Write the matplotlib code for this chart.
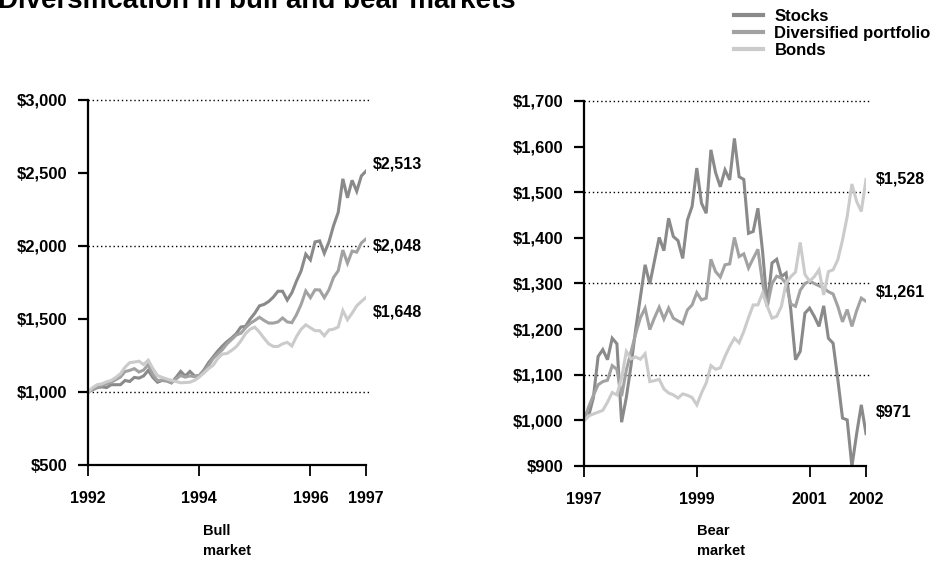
import numpy as np
import matplotlib
matplotlib.use("Agg")
import matplotlib.pyplot as plt
from matplotlib.ticker import FuncFormatter

plt.rcParams["font.family"] = ["Liberation Sans", "DejaVu Sans"]
plt.rcParams["font.weight"] = "bold"

# ==== DATA (monthly values of $1,000 invested) ====
BULL_START, BEAR_START = 1992, 1997

bull_stocks = [1000, 1015, 1030, 1035, 1030, 1050, 1050, 1050, 1079, 1072, 1100, 1095,
               1110, 1148, 1100, 1067, 1079, 1075, 1063, 1100, 1141, 1109, 1141, 1109,
               1113, 1150, 1200, 1240, 1280, 1315, 1345, 1370, 1400, 1445, 1450, 1500,
               1540, 1590, 1600, 1620, 1650, 1690, 1690, 1630, 1680, 1760, 1830, 1944,
               1905, 2028, 2035, 1950, 2028, 2140, 2230, 2460, 2330, 2450, 2375, 2480, 2513]
bull_div = [1000, 1020, 1035, 1045, 1055, 1067, 1085, 1102, 1140, 1148, 1160, 1137,
            1150, 1188, 1120, 1079, 1082, 1079, 1063, 1090, 1113, 1102, 1110, 1105,
            1113, 1140, 1180, 1229, 1260, 1290, 1330, 1360, 1390, 1403, 1440, 1470,
            1490, 1512, 1490, 1472, 1472, 1480, 1507, 1480, 1475, 1530, 1600, 1692,
            1646, 1700, 1699, 1646, 1700, 1785, 1830, 1972, 1882, 1965, 1958, 2021, 2048]
bull_bonds = [1000, 1030, 1050, 1056, 1070, 1079, 1100, 1125, 1170, 1201, 1205, 1211,
              1188, 1218, 1160, 1113, 1100, 1090, 1080, 1072, 1063, 1065, 1067, 1080,
              1102, 1130, 1160, 1183, 1229, 1260, 1264, 1285, 1310, 1350, 1400, 1430,
              1444, 1410, 1368, 1330, 1312, 1312, 1330, 1340, 1315, 1380, 1430, 1460,
              1440, 1420, 1420, 1385, 1425, 1430, 1445, 1558, 1495, 1540, 1590, 1620, 1648]

bear_stocks = [1000, 1010, 1050, 1140, 1155, 1133, 1180, 1168, 996, 1050, 1120, 1200,
               1270, 1341, 1299, 1350, 1401, 1372, 1443, 1403, 1394, 1355, 1439, 1469,
               1553, 1476, 1454, 1593, 1543, 1512, 1549, 1527, 1618, 1534, 1528, 1410,
               1414, 1465, 1370, 1250, 1345, 1353, 1315, 1323, 1242, 1133, 1151, 1235,
               1246, 1228, 1206, 1251, 1180, 1169, 1090, 1005, 1001, 899, 970, 1034, 971]
bear_div = [1000, 1030, 1055, 1078, 1085, 1088, 1120, 1112, 1053, 1110, 1150, 1190,
            1225, 1246, 1199, 1225, 1248, 1222, 1246, 1224, 1218, 1212, 1242, 1253,
            1280, 1264, 1268, 1353, 1326, 1314, 1341, 1343, 1401, 1359, 1365, 1334,
            1355, 1375, 1300, 1250, 1300, 1316, 1312, 1300, 1255, 1250, 1285, 1300,
            1305, 1300, 1295, 1290, 1282, 1277, 1250, 1216, 1243, 1206, 1240, 1268, 1261]
bear_bonds = [1000, 1010, 1014, 1018, 1022, 1040, 1061, 1056, 1093, 1151, 1135, 1139,
              1134, 1146, 1085, 1087, 1090, 1069, 1060, 1056, 1049, 1058, 1055, 1050,
              1034, 1060, 1082, 1120, 1112, 1115, 1140, 1162, 1180, 1170, 1195, 1225,
              1253, 1253, 1279, 1250, 1224, 1228, 1250, 1301, 1315, 1325, 1390, 1320,
              1305, 1315, 1330, 1275, 1326, 1330, 1352, 1395, 1447, 1518, 1480, 1458, 1528]

SERIES_NAMES = ["Stocks", "Diversified portfolio", "Bonds"]
COLORS = ["#8a8a8a", "#a2a2a2", "#cbcbcb"]

bull_ticks = [1992, 1994, 1996, 1997]
bear_ticks = [1997, 1999, 2001, 2002]

# ==== RYSOWANIE ====
W, H = 937, 569
fig = plt.figure(figsize=(W / 100, H / 100), dpi=100)


def px_axes(x0, x1, y0, y1):
    return fig.add_axes([x0 / W, 1 - y1 / H, (x1 - x0) / W, (y1 - y0) / H])


ax1 = px_axes(88, 366, 100, 465)
ax2 = px_axes(584, 866, 101, 466)

money = FuncFormatter(lambda v, _: f"${v:,.0f}")


def draw_panel(ax, start, series, ticks, ylim, yticks, grid, labels, label_pos):
    t = start + np.arange(len(series[0])) / 12.0
    handles = []
    for vals, c, name in zip(series, COLORS, SERIES_NAMES):
        h, = ax.plot(t, vals, color=c, lw=2.2, label=name, solid_joinstyle="miter")
        handles.append(h)
    for g in grid:
        ax.axhline(g, xmin=0, xmax=1.01, color="black", ls=(0, (1, 2)), lw=1.0,
                   clip_on=False, zorder=0)
    ax.set_xlim(start, start + 5)
    ax.set_ylim(*ylim)
    ax.set_yticks(yticks)
    ax.set_xticks(ticks)
    ax.yaxis.set_major_formatter(money)
    for s in ["top", "right"]:
        ax.spines[s].set_visible(False)
    for s in ["left", "bottom"]:
        ax.spines[s].set_linewidth(1.6)
    ax.tick_params(axis="y", length=7, width=1.6, labelsize=12, pad=8)
    ax.tick_params(axis="x", length=8, width=1.3, labelsize=11.5, pad=11)
    for txt, (lx, ly) in zip(labels, label_pos):
        ax.text(lx, ly, txt, fontsize=11.5, fontweight="bold", ha="left", va="center")
    return handles


handles = draw_panel(
    ax1, BULL_START, [bull_stocks, bull_div, bull_bonds], bull_ticks,
    (500, 3000), [500, 1000, 1500, 2000, 2500, 3000], [1000, 2000, 3000],
    [f"${bull_stocks[-1]:,}", f"${bull_div[-1]:,}", f"${bull_bonds[-1]:,}"],
    [(1997.13, 2560), (1997.13, 2000), (1997.13, 1545)])

draw_panel(
    ax2, BEAR_START, [bear_stocks, bear_div, bear_bonds], bear_ticks,
    (900, 1700), [900, 1000, 1100, 1200, 1300, 1400, 1500, 1600, 1700],
    [1100, 1300, 1500, 1700],
    [f"${bear_stocks[-1]:,}", f"${bear_div[-1]:,}", f"${bear_bonds[-1]:,}"],
    [(2002.18, 1017), (2002.18, 1281), (2002.18, 1528)])

# Tytuł (przycięty u góry jak w oryginale)
fig.text(-0.002, 1 - 7.5 / H, "Diversification in bull and bear markets",
         fontsize=20, fontweight="bold", ha="left", va="baseline")

# Podpisy paneli
fig.text(203 / W, 1 - 541 / H, "Bull\nmarket", fontsize=10.5, fontweight="bold",
         ha="left", va="center", linespacing=1.6)
fig.text(697 / W, 1 - 541 / H, "Bear\nmarket", fontsize=10.5, fontweight="bold",
         ha="left", va="center", linespacing=1.6)

# Legenda
fig.legend(handles=handles, loc="upper left", bbox_to_anchor=(727 / W, 1 - 2 / H),
           frameon=False, handlelength=1.75, handletextpad=0.7,
           labelspacing=0.12, borderaxespad=0,
           prop={"weight": "bold", "size": 12})
for ln in fig.legends[0].get_lines():
    ln.set_linewidth(3)

fig.savefig("out.png", dpi=100)
